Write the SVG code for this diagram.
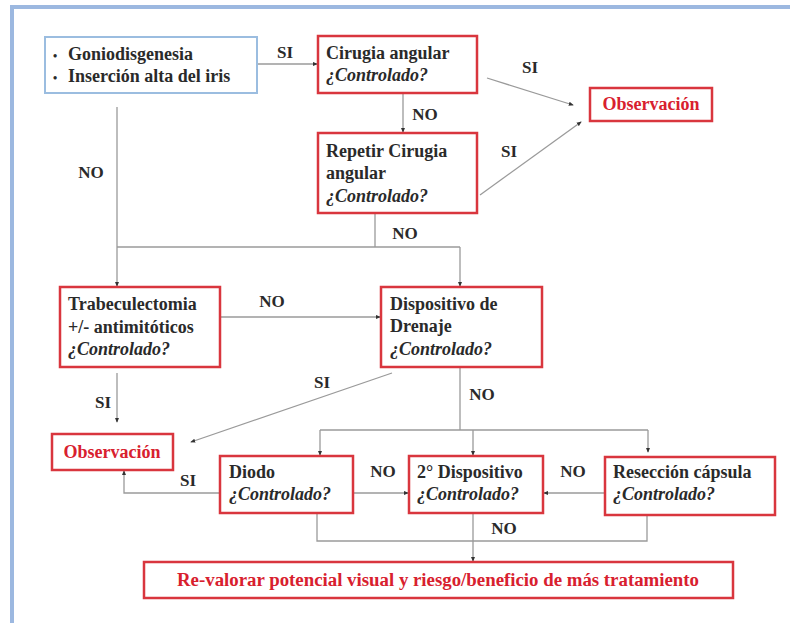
<svg xmlns="http://www.w3.org/2000/svg" width="790" height="623" viewBox="0 0 790 623" font-family="Liberation Serif, DejaVu Serif, serif">
<defs>
<marker id="ah" viewBox="0 0 6 6" refX="5" refY="3" markerWidth="5" markerHeight="5" orient="auto" markerUnits="userSpaceOnUse">
<path d="M0,0.5 L6,3 L0,5.5 z" fill="#333"/>
</marker>
<style>
.t{font-weight:bold;font-size:18px;fill:#2a2a2a}
.i{font-style:italic}
.r{fill:#d8202e}
.lb{font-weight:bold;font-size:17px;fill:#2a2a2a;text-anchor:middle}
.rb{fill:#fff;stroke:#d9363e;stroke-width:2.5}
.bb{fill:#fff;stroke:#9bbde0;stroke-width:2}
.c{fill:none;stroke:#9a9a9a;stroke-width:1.3}
.a{marker-end:url(#ah)}
</style>
</defs>
<rect x="0" y="0" width="790" height="623" fill="#fff"/>
<path d="M12,623 V7 H790" fill="none" stroke="#9cb8e0" stroke-width="4"/>

<g id="connectors">
<path class="c a" d="M257,64 H317"/>
<path class="c a" d="M487,78 L573,105"/>
<path class="c a" d="M480,195 L581,122"/>
<path class="c a" d="M403,93 V132"/>
<path class="c" d="M375,213 V247"/>
<path class="c a" d="M117,107 V286"/>
<path class="c" d="M117,247 H460"/>
<path class="c a" d="M460,247 V286"/>
<path class="c a" d="M220,317 H380"/>
<path class="c a" d="M117,373 V422"/>
<path class="c a" d="M392,373 L191,442"/>
<path class="c" d="M460,367 V430 M320,430 H648"/>
<path class="c a" d="M320,430 V455"/>
<path class="c a" d="M473,430 V455"/>
<path class="c a" d="M648,430 V452"/>
<path class="c a" d="M220,493 H124 V471"/>
<path class="c a" d="M353,493 H408"/>
<path class="c a" d="M605,493 H544"/>
<path class="c" d="M317,513 V541 H647 V515"/>
<path class="c a" d="M473,513 V561"/>
</g>

<g id="labels">
<text class="lb" x="285" y="58">SI</text>
<text class="lb" x="530" y="73">SI</text>
<text class="lb" x="425" y="120">NO</text>
<text class="lb" x="509" y="157">SI</text>
<text class="lb" x="405" y="239">NO</text>
<text class="lb" x="91" y="178">NO</text>
<text class="lb" x="272" y="307">NO</text>
<text class="lb" x="103" y="408">SI</text>
<text class="lb" x="322" y="388">SI</text>
<text class="lb" x="482" y="400">NO</text>
<text class="lb" x="188" y="486">SI</text>
<text class="lb" x="383" y="477">NO</text>
<text class="lb" x="573" y="477">NO</text>
<text class="lb" x="504" y="534">NO</text>
</g>

<g id="n-gonio">
<rect class="bb" x="45" y="37" width="212" height="56"/>
<text class="t" x="53" y="60"><tspan font-size="12">•</tspan><tspan x="68">Goniodisgenesia</tspan></text>
<text class="t" x="53" y="82"><tspan font-size="12">•</tspan><tspan x="68">Inserción alta del iris</tspan></text>
</g>

<g id="n-cirugia">
<rect class="rb" x="318" y="36" width="159" height="57"/>
<text class="t" x="326" y="59">Cirugia angular</text>
<text class="t i" x="326" y="81">¿Controlado?</text>
</g>

<g id="n-obs1">
<rect class="rb" x="590" y="88" width="122" height="33"/>
<text class="t r" x="651" y="110" text-anchor="middle" font-size="17">Observación</text>
</g>

<g id="n-repetir">
<rect class="rb" x="318" y="133" width="159" height="80"/>
<text class="t" x="326" y="157">Repetir Cirugia</text>
<text class="t" x="326" y="179">angular</text>
<text class="t i" x="326" y="202">¿Controlado?</text>
</g>

<g id="n-trabe">
<rect class="rb" x="60" y="287" width="160" height="80"/>
<text class="t" x="68" y="310">Trabeculectomia</text>
<text class="t" x="68" y="333">+/- antimitóticos</text>
<text class="t i" x="68" y="355">¿Controlado?</text>
</g>

<g id="n-dispositivo">
<rect class="rb" x="381" y="287" width="161" height="80"/>
<text class="t" x="390" y="310">Dispositivo de</text>
<text class="t" x="390" y="332">Drenaje</text>
<text class="t i" x="390" y="355">¿Controlado?</text>
</g>

<g id="n-obs2">
<rect class="rb" x="52" y="434" width="121" height="36"/>
<text class="t r" x="112" y="458" text-anchor="middle" font-size="17">Observación</text>
</g>

<g id="n-diodo">
<rect class="rb" x="220" y="456" width="133" height="57"/>
<text class="t" x="229" y="478">Diodo</text>
<text class="t i" x="229" y="500">¿Controlado?</text>
</g>

<g id="n-disp2">
<rect class="rb" x="409" y="456" width="134" height="57"/>
<text class="t" x="417" y="478">2° Dispositivo</text>
<text class="t i" x="417" y="500">¿Controlado?</text>
</g>

<g id="n-reseccion">
<rect class="rb" x="605" y="457" width="170" height="58"/>
<text class="t" x="613" y="478">Resección cápsula</text>
<text class="t i" x="613" y="500">¿Controlado?</text>
</g>

<g id="n-revalorar">
<rect class="rb" x="144" y="562" width="589" height="36"/>
<text class="t r" x="438" y="586" text-anchor="middle" textLength="522" lengthAdjust="spacingAndGlyphs">Re-valorar potencial visual y riesgo/beneficio de más tratamiento</text>
</g>
</svg>
